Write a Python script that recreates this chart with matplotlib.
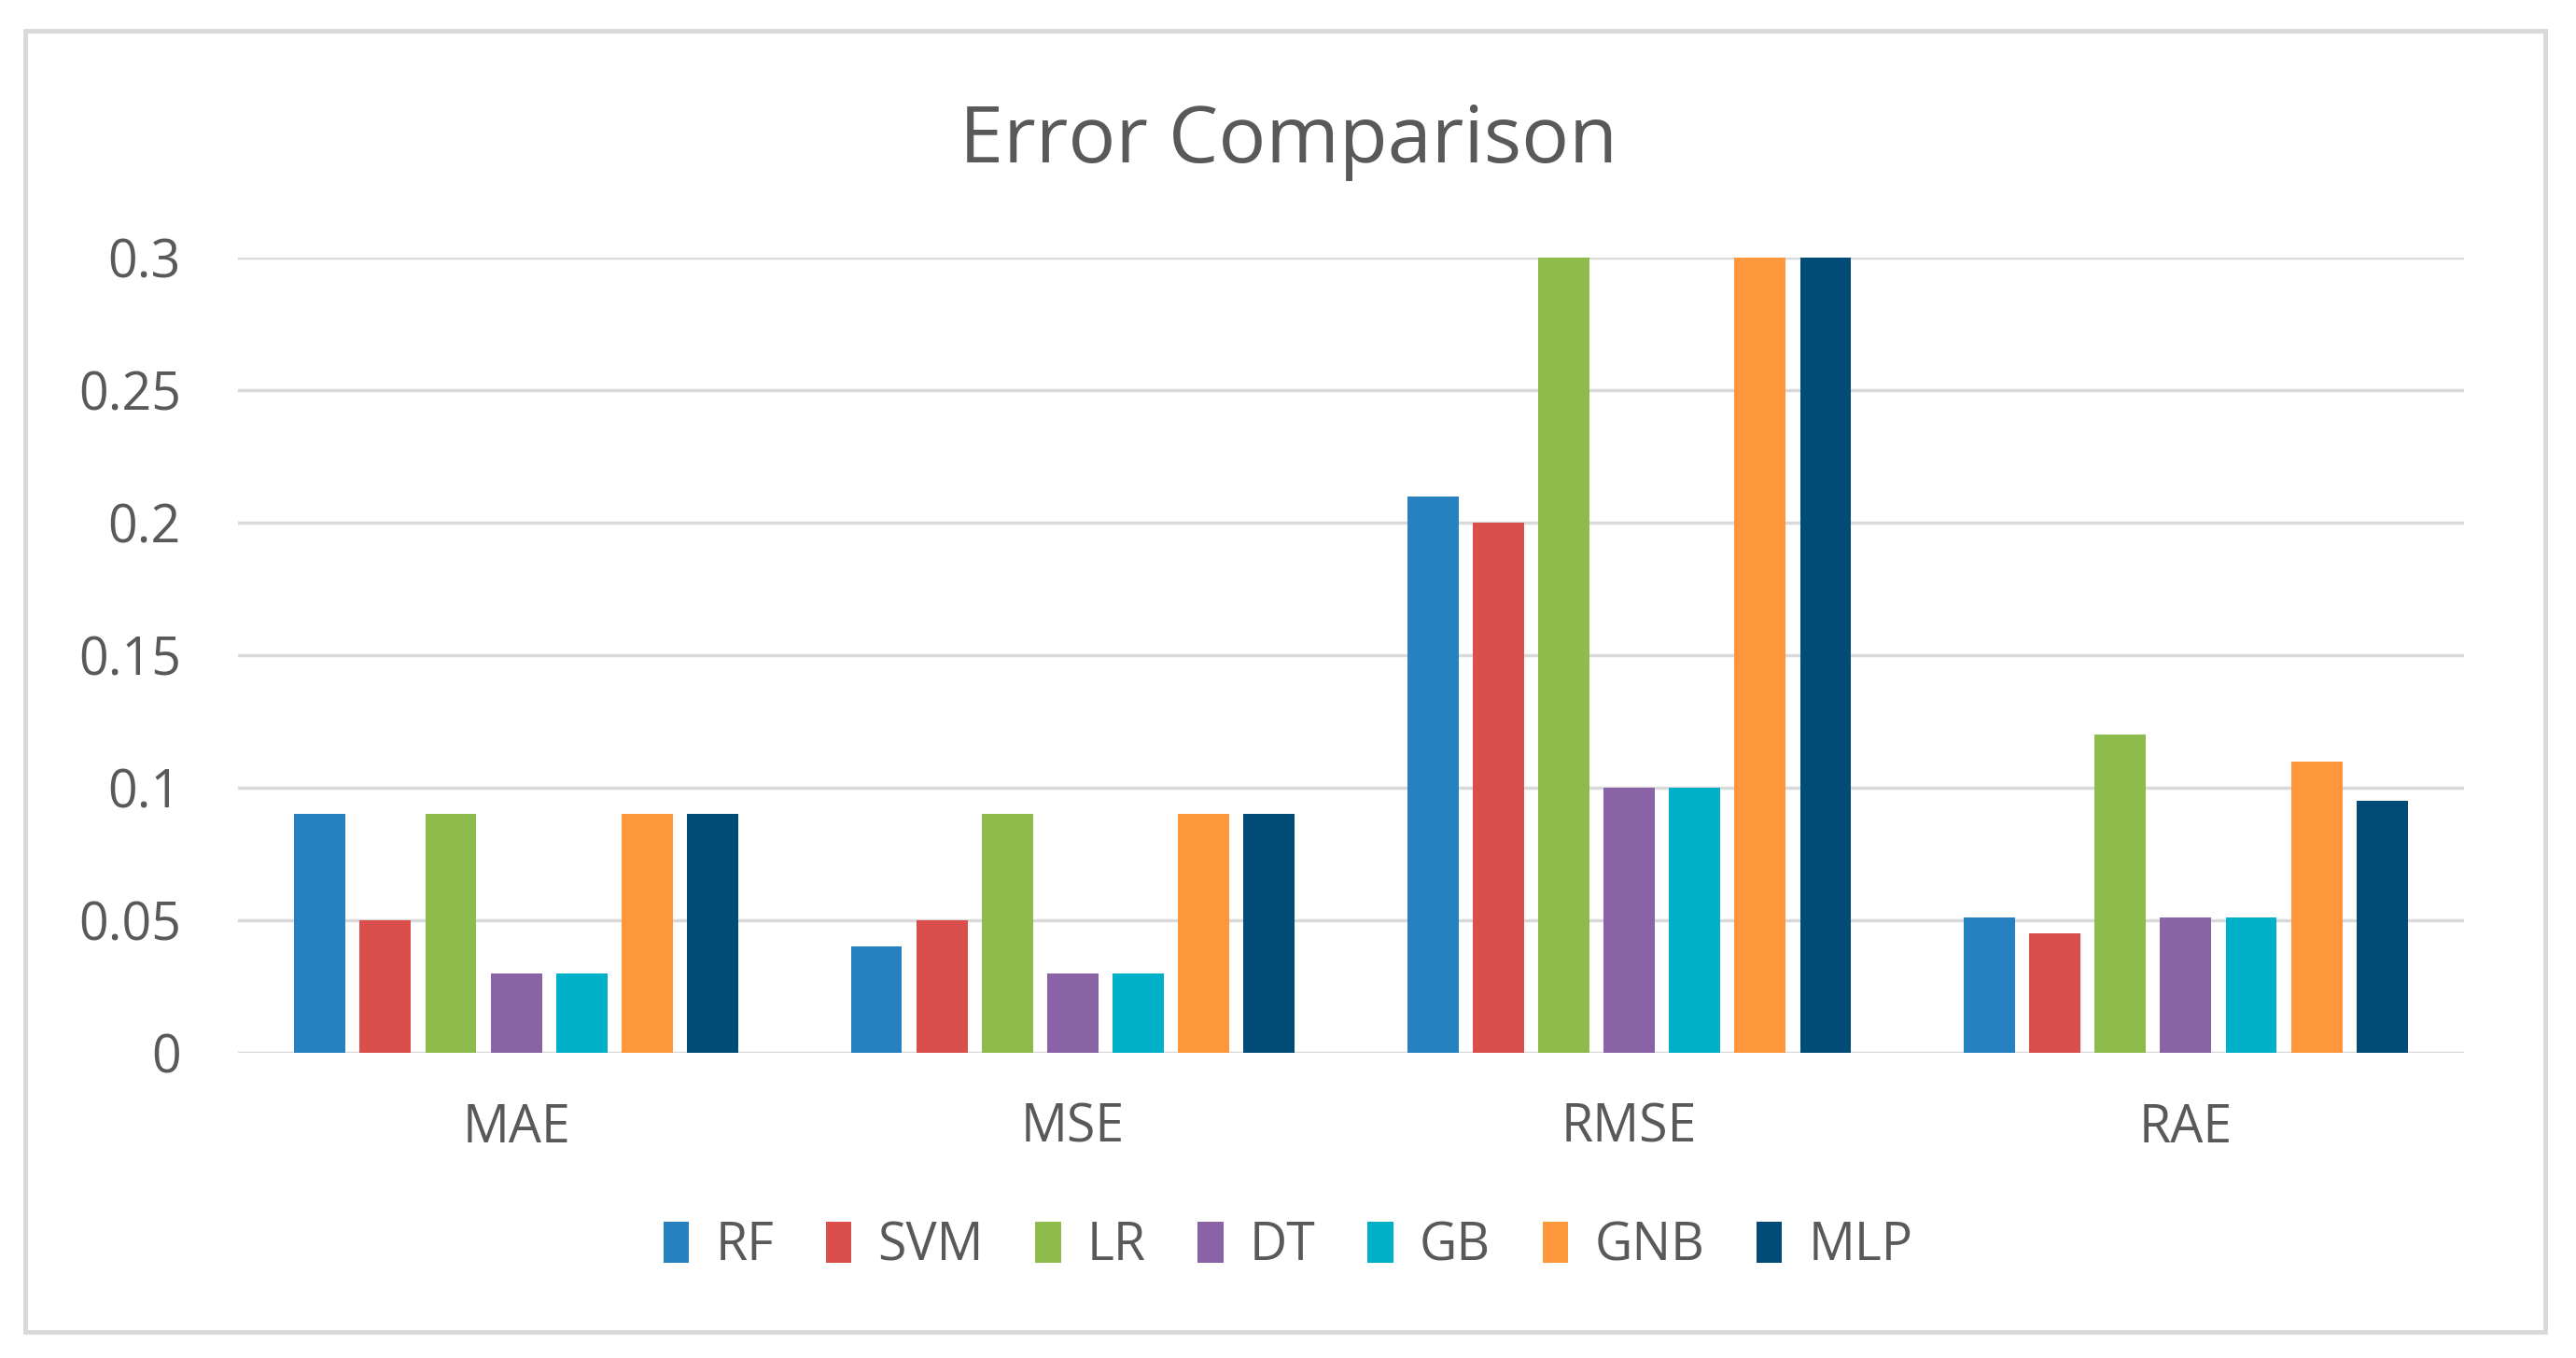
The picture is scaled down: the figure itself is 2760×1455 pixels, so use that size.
import matplotlib
matplotlib.use("Agg")
import matplotlib.pyplot as plt
import numpy as np
from matplotlib.patches import Rectangle

plt.rcParams['font.family'] = ['Open Sans', 'DejaVu Sans']

categories = ["MAE", "MSE", "RMSE", "RAE"]
models = ["RF", "SVM", "LR", "DT", "GB", "GNB", "MLP"]
RF = [0.09, 0.04, 0.21, 0.051]
SVM = [0.05, 0.05, 0.20, 0.045]
LR = [0.09, 0.09, 0.30, 0.12]
DT = [0.03, 0.03, 0.10, 0.051]
GB = [0.03, 0.03, 0.10, 0.051]
GNB = [0.09, 0.09, 0.30, 0.11]
MLP = [0.09, 0.09, 0.30, 0.095]
series = [RF, SVM, LR, DT, GB, GNB, MLP]
colors = ["#2681C0", "#DA4E4C", "#8DBB4C", "#8A63A6", "#00B0C8", "#FE963C", "#004C76"]
yticks = [0, 0.05, 0.1, 0.15, 0.2, 0.25, 0.3]
ytick_labels = ["0", "0.05", "0.1", "0.15", "0.2", "0.25", "0.3"]

W, H = 2760, 1455
fig = plt.figure(figsize=(W / 100, H / 100), dpi=100)
fig.patch.set_facecolor("white")

# outer chart border
fig.add_artist(Rectangle((27 / W, 1 - 1427 / H), (2727 - 27) / W, (1427 - 33) / H,
                         transform=fig.transFigure, fill=False,
                         edgecolor="#D9D9D9", linewidth=3.5))

ax = fig.add_axes([255 / W, 1 - 1128 / H, (2640 - 255) / W, (1128 - 276) / H])
x = np.arange(len(categories))
step = 0.1176
bw = 0.092
for i, (name, vals, c) in enumerate(zip(models, series, colors)):
    ax.bar(x + (i - 3) * step, vals, width=bw, color=c, label=name, zorder=3)

ax.set_xlim(-0.5, len(categories) - 0.5)
ax.set_ylim(0, 0.3)
ax.set_yticks(yticks)
ax.set_yticklabels(ytick_labels)
ax.set_xticks(x)
ax.set_xticklabels(categories)
ax.yaxis.grid(True, color="#D9D9D9", linewidth=2.5, zorder=0)
ax.set_axisbelow(True)
for s in ax.spines.values():
    s.set_visible(False)
ax.tick_params(axis="both", length=0, labelsize=40, colors="#595959")
ax.tick_params(axis="y", pad=44)
ax.tick_params(axis="x", pad=38)

fig.text(0.5, 1 - 152 / H, "Error Comparison", ha="center", va="center",
         fontsize=61, color="#595959")

leg = fig.legend(loc="center", bbox_to_anchor=(0.5, 1 - 1336 / H), ncol=7,
                 frameon=False, fontsize=40, handlelength=0.5, handleheight=0.85,
                 handletextpad=0.5, columnspacing=1.0, labelcolor="#595959")

fig.savefig("out.png", dpi=100, facecolor="white")
